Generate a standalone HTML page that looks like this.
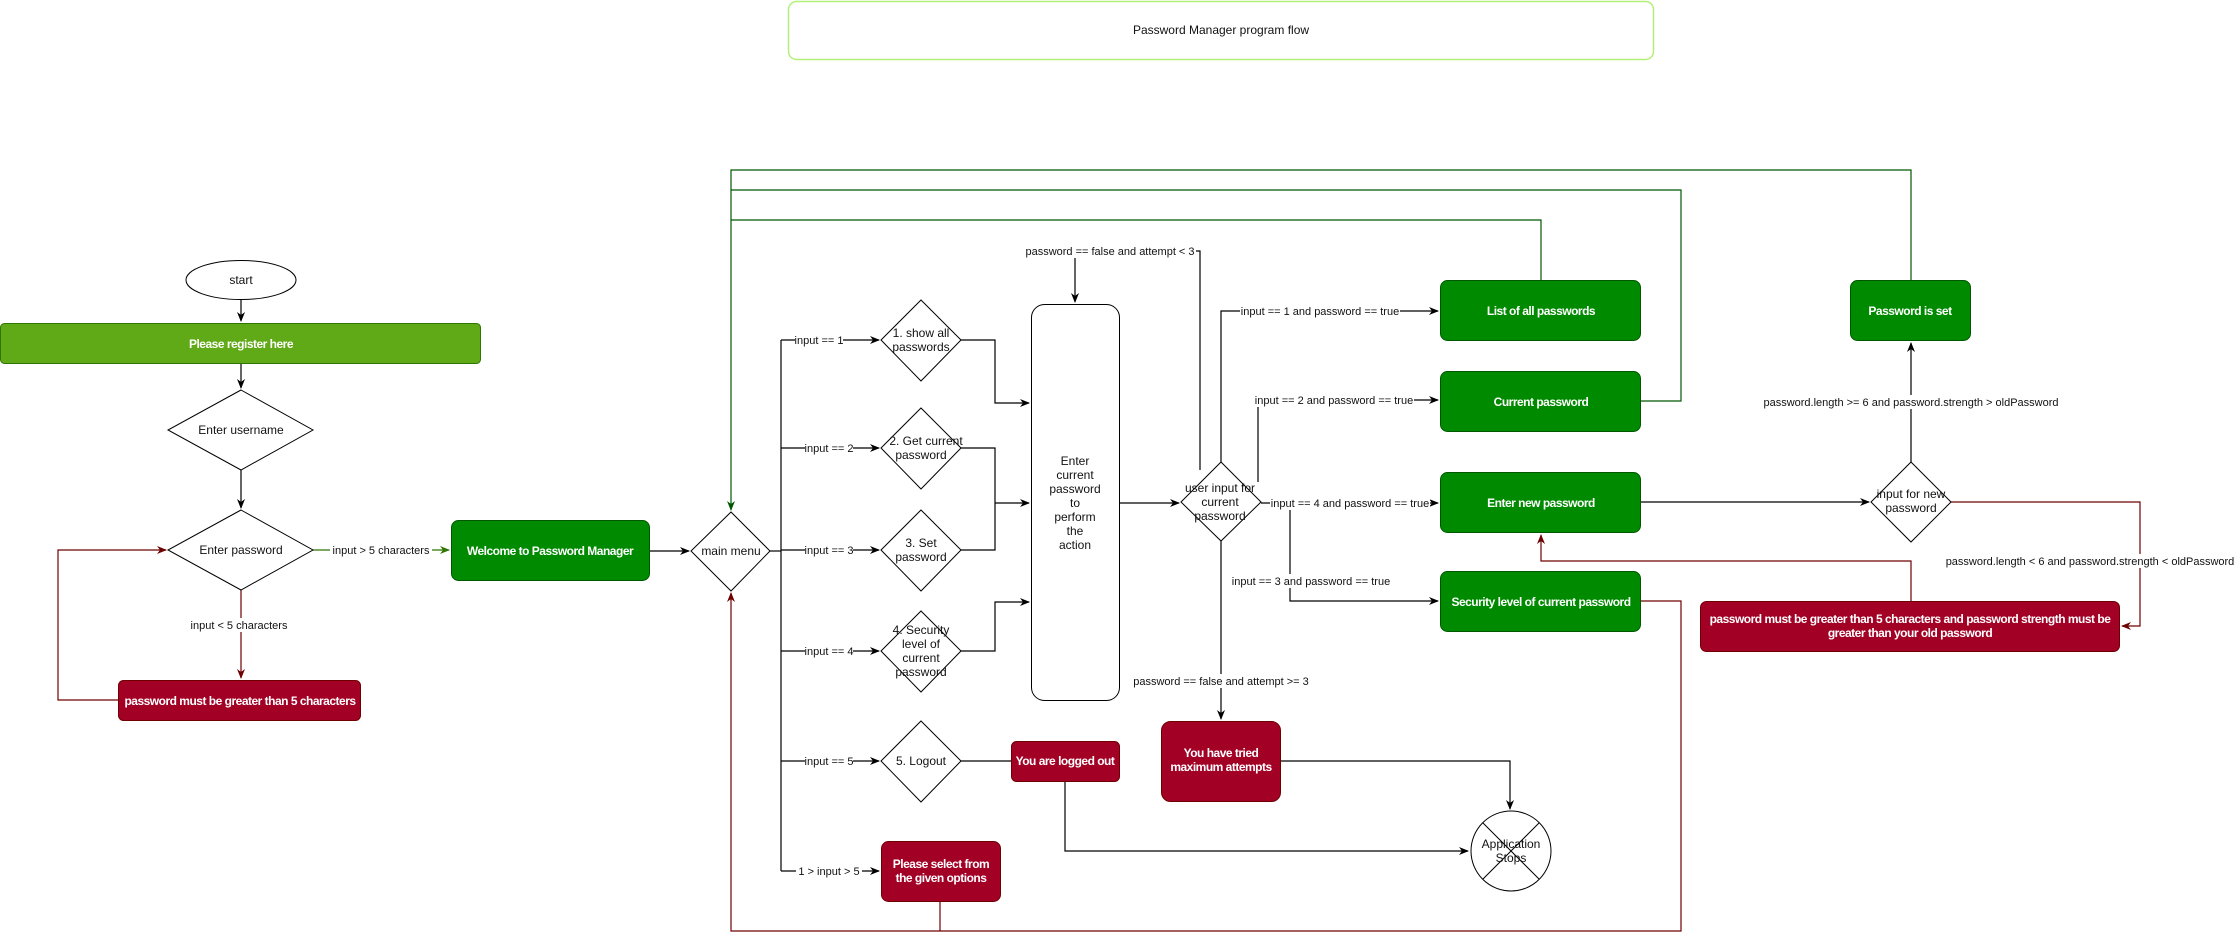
<!DOCTYPE html>
<html><head><meta charset="utf-8"><style>
html,body{margin:0;padding:0;background:#fff;}
svg{display:block;font-family:"Liberation Sans",Arial,sans-serif;}
.l{font-size:11px;fill:#111;}
.n{font-size:12px;fill:#111;}
.b{font-size:12px;fill:#fff;font-weight:bold;letter-spacing:-0.5px;}
</style></head><body>
<svg width="2235" height="939" viewBox="0 0 2235 939" xmlns="http://www.w3.org/2000/svg">
<defs>
<marker id="ak" markerWidth="10" markerHeight="10" refX="9" refY="5" orient="auto" markerUnits="userSpaceOnUse"><path d="M0,1 L10,5 L0,9 L3,5 z" fill="#000"/></marker>
<marker id="ag" markerWidth="10" markerHeight="10" refX="9" refY="5" orient="auto" markerUnits="userSpaceOnUse"><path d="M0,1 L10,5 L0,9 L3,5 z" fill="#005700"/></marker>
<marker id="ar" markerWidth="10" markerHeight="10" refX="9" refY="5" orient="auto" markerUnits="userSpaceOnUse"><path d="M0,1 L10,5 L0,9 L3,5 z" fill="#6f0000"/></marker>
<marker id="alg" markerWidth="10" markerHeight="10" refX="9" refY="5" orient="auto" markerUnits="userSpaceOnUse"><path d="M0,1 L10,5 L0,9 L3,5 z" fill="#2d7600"/></marker>
</defs>

<rect x="788.5" y="1.5" width="865" height="58" rx="8" fill="#fff" stroke="#b3f07a" stroke-width="1.5"/>
<text x="1221" y="34" class="n" text-anchor="middle">Password Manager program flow</text>

<g fill="none" stroke="#005700" stroke-width="1.2">
<path d="M1911,280 V170 H731 V510" marker-end="url(#ag)"/>
<path d="M1641,401 H1681 V190 H731"/>
<path d="M1541,280 V220 H731"/>
</g>

<g fill="none" stroke="#6f0000" stroke-width="1.2">
<path d="M241,590 V678" marker-end="url(#ar)"/>
<path d="M118,700 H58 V550 H166" marker-end="url(#ar)"/>
<path d="M1641,601 H1681 V931 H731 V593" marker-end="url(#ar)"/>
<path d="M940,902 V931"/>
<path d="M1951,502 H2140 V626 H2122" marker-end="url(#ar)"/>
<path d="M1911,601 V561 H1541 V535" marker-end="url(#ar)"/>
</g>
<path d="M313,550 H449" fill="none" stroke="#2d7600" stroke-width="1.2" marker-end="url(#alg)"/>

<g fill="none" stroke="#000" stroke-width="1.2">
<path d="M241,300 V321" marker-end="url(#ak)"/>
<path d="M241,364 V388" marker-end="url(#ak)"/>
<path d="M241,470 V508" marker-end="url(#ak)"/>
<path d="M650,551 H689" marker-end="url(#ak)"/>
<path d="M770,551 H781"/>
<path d="M781,340 V871"/>
<path d="M781,340 H879" marker-end="url(#ak)"/>
<path d="M781,448 H879" marker-end="url(#ak)"/>
<path d="M781,550 H879" marker-end="url(#ak)"/>
<path d="M781,651 H879" marker-end="url(#ak)"/>
<path d="M781,761 H879" marker-end="url(#ak)"/>
<path d="M781,871 H879" marker-end="url(#ak)"/>
<path d="M961,340 H995 V403 H1029" marker-end="url(#ak)"/>
<path d="M961,448 H995 V550 H961"/>
<path d="M995,503 H1029" marker-end="url(#ak)"/>
<path d="M961,651 H995 V602 H1029" marker-end="url(#ak)"/>
<path d="M1075,251 V302" marker-end="url(#ak)"/>
<path d="M1200,470 V251 H1196"/>
<path d="M1120,503 H1179" marker-end="url(#ak)"/>
<path d="M1221,462 V311 H1438" marker-end="url(#ak)"/>
<path d="M1258,482 V400 H1438" marker-end="url(#ak)"/>
<path d="M1261,503 H1438" marker-end="url(#ak)"/>
<path d="M1290,503 V601 H1438" marker-end="url(#ak)"/>
<path d="M1221,541 V719" marker-end="url(#ak)"/>
<path d="M961,761 H1011"/>
<path d="M1065,781 V851 H1468" marker-end="url(#ak)"/>
<path d="M1281,761 H1510 V809" marker-end="url(#ak)"/>
<path d="M1641,502 H1869" marker-end="url(#ak)"/>
<path d="M1911,462 V343" marker-end="url(#ak)"/>
</g>

<g class="l" text-anchor="middle">
<rect x="330" y="543" width="102" height="14" fill="#fff"/><text x="381" y="554">input &gt; 5 characters</text>
<rect x="185" y="618" width="108" height="14" fill="#fff"/><text x="239" y="629">input &lt;  5 characters</text>
<rect x="795" y="333" width="48" height="14" fill="#fff"/><text x="819" y="344">input == 1</text>
<rect x="805" y="441" width="48" height="14" fill="#fff"/><text x="829" y="452">input == 2</text>
<rect x="805" y="543" width="48" height="14" fill="#fff"/><text x="829" y="554">input == 3</text>
<rect x="805" y="644" width="48" height="14" fill="#fff"/><text x="829" y="655">input == 4</text>
<rect x="805" y="754" width="48" height="14" fill="#fff"/><text x="829" y="765">input == 5</text>
<rect x="796" y="864" width="66" height="14" fill="#fff"/><text x="829" y="875">1 &gt;  input  &gt; 5</text>
<rect x="1025" y="244" width="171" height="14" fill="#fff"/><text x="1110" y="255">password == false and attempt &lt; 3</text>
<rect x="1240" y="304" width="160" height="14" fill="#fff"/><text x="1320" y="315">input == 1 and password == true</text>
<rect x="1254" y="393" width="160" height="14" fill="#fff"/><text x="1334" y="404">input == 2 and password == true</text>
<rect x="1270" y="496" width="160" height="14" fill="#fff"/><text x="1350" y="507">input == 4 and password == true</text>
<rect x="1231" y="574" width="160" height="14" fill="#fff"/><text x="1311" y="585">input == 3 and password == true</text>
<rect x="1132" y="674" width="178" height="14" fill="#fff"/><text x="1221" y="685">password == false and attempt &gt;= 3</text>
<rect x="1762" y="395" width="298" height="14" fill="#fff"/><text x="1911" y="406">password.length &gt;= 6 and password.strength &gt; oldPassword</text>
<rect x="1946" y="554" width="289" height="14" fill="#fff"/><text x="2090" y="565">password.length &lt; 6 and password.strength &lt; oldPassword</text>
</g>

<ellipse cx="241" cy="280" rx="55" ry="19.5" fill="#fff" stroke="#000"/>
<text x="241" y="284" class="n" text-anchor="middle">start</text>
<rect x="0.5" y="323.5" width="480" height="40" rx="4" fill="#60a917" stroke="#2d7600"/>
<text x="241" y="348" class="b" text-anchor="middle">Please register here</text>
<polygon points="241,390 313,430 241,470 168,430" fill="#fff" stroke="#000"/>
<text x="241" y="434" class="n" text-anchor="middle">Enter username</text>
<polygon points="241,510 313,550 241,590 168,550" fill="#fff" stroke="#000"/>
<text x="241" y="554" class="n" text-anchor="middle">Enter password</text>
<rect x="118.5" y="680.5" width="242" height="40" rx="5" fill="#a20025" stroke="#6f0000"/>
<text x="240" y="705" class="b" text-anchor="middle">password must be greater than 5 characters</text>
<rect x="451.5" y="520.5" width="198" height="60" rx="7" fill="#008a00" stroke="#005700"/>
<text x="550" y="555" class="b" text-anchor="middle">Welcome to Password Manager</text>
<polygon points="731,512 770,551 731,591 691,551" fill="#fff" stroke="#000"/>
<text x="731" y="555" class="n" text-anchor="middle">main menu</text>

<g fill="#fff" stroke="#000">
<polygon points="921,300 961,340 921,381 881,340"/>
<polygon points="921,408 961,448 921,489 881,448"/>
<polygon points="921,510 961,550 921,591 881,550"/>
<polygon points="921,611 961,651 921,692 881,651"/>
<polygon points="921,721 961,761 921,802 881,761"/>
<rect x="1031.5" y="304.5" width="88" height="396" rx="13"/>
<polygon points="1221,462 1261,502 1221,541 1181,502"/>
<polygon points="1911,462 1951,502 1911,542 1871,502"/>
<circle cx="1511" cy="851" r="40"/>
</g>
<path d="M1483,823 L1539,879 M1539,823 L1483,879" stroke="#000"/>
<g class="n" text-anchor="middle">
<text x="921" y="337">1. show all</text><text x="921" y="351">passwords</text>
<text x="926" y="445">2. Get current</text><text x="921" y="459">password</text>
<text x="921" y="547">3. Set</text><text x="921" y="561">password</text>
<text x="921" y="634">4. Security</text><text x="921" y="648">level of</text><text x="921" y="662">current</text><text x="921" y="676">password</text>
<text x="921" y="765">5. Logout</text>
<text x="1075" y="465">Enter</text><text x="1075" y="479">current</text><text x="1075" y="493">password</text><text x="1075" y="507">to</text><text x="1075" y="521">perform</text><text x="1075" y="535">the</text><text x="1075" y="549">action</text>
<text x="1220" y="492">user input for</text><text x="1220" y="506">current</text><text x="1220" y="520">password</text>
<text x="1911" y="498">input for new</text><text x="1911" y="512">password</text>
<text x="1511" y="848">Application</text><text x="1511" y="862">Stops</text>
</g>

<g fill="#008a00" stroke="#005700">
<rect x="1440.5" y="280.5" width="200" height="60" rx="7"/>
<rect x="1440.5" y="371.5" width="200" height="60" rx="7"/>
<rect x="1440.5" y="472.5" width="200" height="60" rx="7"/>
<rect x="1440.5" y="571.5" width="200" height="60" rx="7"/>
<rect x="1850.5" y="280.5" width="120" height="60" rx="7"/>
</g>
<g class="b" text-anchor="middle">
<text x="1541" y="315">List of all passwords</text>
<text x="1541" y="406">Current password</text>
<text x="1541" y="507">Enter new password</text>
<text x="1541" y="606">Security level of current password</text>
<text x="1910" y="315">Password is set</text>
</g>

<g fill="#a20025" stroke="#6f0000">
<rect x="1011.5" y="741.5" width="108" height="40" rx="5"/>
<rect x="1161.5" y="721.5" width="119" height="80" rx="9"/>
<rect x="881.5" y="841.5" width="119" height="60" rx="7"/>
<rect x="1700.5" y="601.5" width="419" height="50" rx="6"/>
</g>
<g class="b" text-anchor="middle">
<text x="1065" y="765">You are logged out</text>
<text x="1221" y="757">You have tried</text><text x="1221" y="771">maximum attempts</text>
<text x="941" y="868">Please select from</text><text x="941" y="882">the given options</text>
<text x="1910" y="623">password must be greater than 5 characters and password strength must be</text>
<text x="1910" y="637">greater than your old password</text>
</g>
</svg>
</body></html>
